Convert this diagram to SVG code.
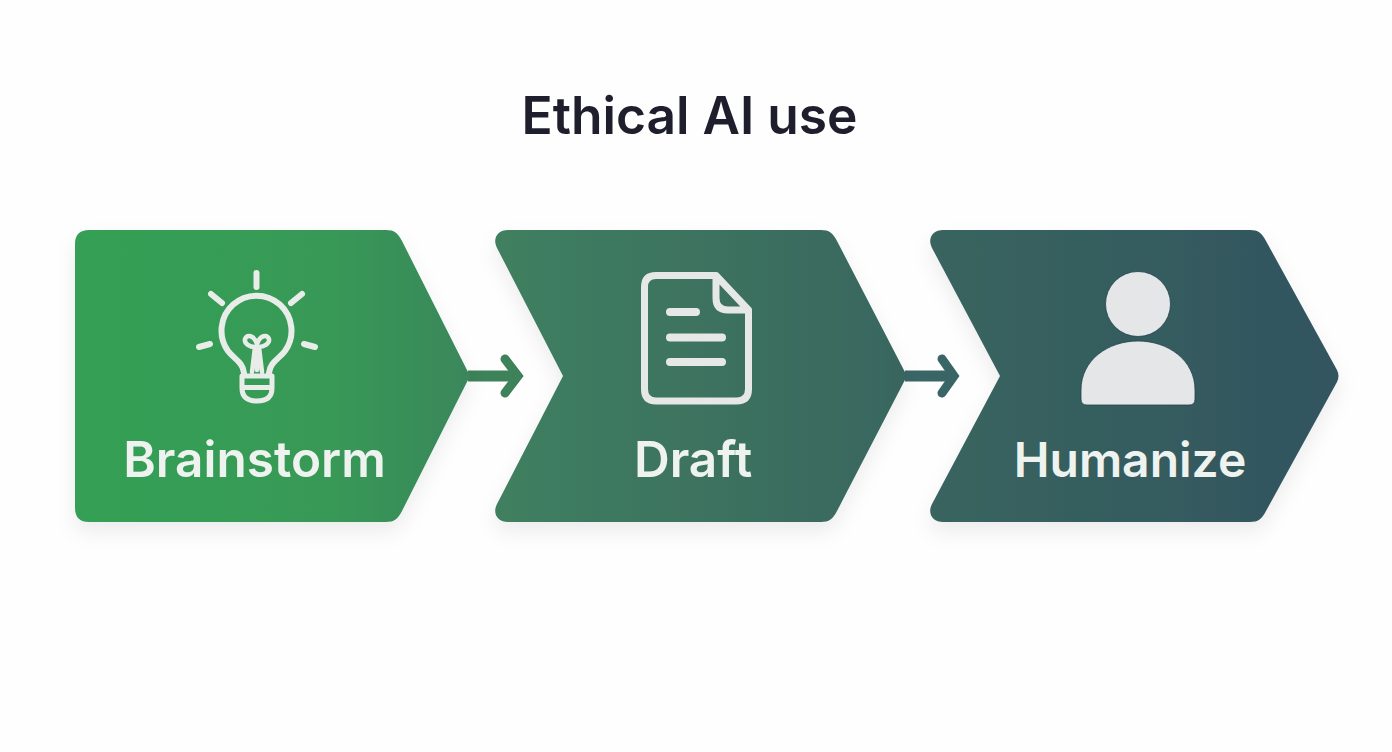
<svg xmlns="http://www.w3.org/2000/svg" width="1392" height="752" viewBox="0 0 1392 752">
<style>
text{font-family:Inter,"Liberation Sans",Arial,sans-serif;font-weight:600;text-anchor:middle}
.lbl{font-size:49.500px;fill:#eff3ef}
.ic{fill:none;stroke:#e9ede9;stroke-width:6;stroke-linecap:round;stroke-linejoin:round}
.ic2{fill:none;stroke:#e6e8e8;stroke-width:7;stroke-linecap:round;stroke-linejoin:round}
.ln{fill:none;stroke:#e6e8e8;stroke-width:8;stroke-linecap:round}
.arr{fill:none;stroke-width:9;stroke-linecap:round;stroke-linejoin:miter;stroke-miterlimit:6}
.shaft{stroke-width:11;stroke-linecap:butt}
.card{fill:url(#g);filter:url(#s)}
.ps{fill:#e4e6e7;stroke:#24424c;stroke-width:.8}
</style>
<defs>
<linearGradient id="g" gradientUnits="userSpaceOnUse" x1="75" y1="0" x2="1339" y2="0">
<stop offset="0" stop-color="#35a055"/><stop offset="0.2" stop-color="#379957"/><stop offset="0.3" stop-color="#3a895a"/><stop offset="0.34" stop-color="#3f7f60"/><stop offset="0.65" stop-color="#39665f"/><stop offset="1" stop-color="#32545f"/>
</linearGradient>
<filter id="s" x="-10%" y="-10%" width="120%" height="130%"><feDropShadow dx="0" dy="10" stdDeviation="10" flood-color="#000" flood-opacity="0.07"/></filter>
</defs>
<rect width="1392" height="752" fill="#fefefe"/>
<text id="title" x="689.500" y="134" font-size="51.500" fill="#1e1e2c">Ethical AI use</text>
<g id="connectors">
<g class="arr" stroke="#3d8259"><path class="shaft" d="M468 376H514"/><path d="M505 359L518 376L505 393"/></g>
<g class="arr" stroke="#3a6566"><path class="shaft" d="M905 376H950"/><path d="M942 359L954 376L942 393"/></g>
</g>
<g id="brainstorm">
<path class="card" d="M89 230H386C394 230 398 233 402 241L470 376L402 511C398 519 394 522 386 522H89Q75 522 75 508V244Q75 230 89 230Z"/>
<path class="ic" d="M256.500 273V287M211 294L222 303M302 294L291 303M199 347L210 344M315 347L304 344"/>
<path class="ic" d="M244 373C243 362 234 359 228 351A35 35 0 1 1 285 351C279 359 270 362 269 373"/>
<path class="ic" style="stroke-width:5" d="M242 376H272V388Q272 401 257 401Q242 401 242 388ZM242 387.500H272"/>
<path class="ic" style="stroke-width:4.500" d="M252 372L255 347C250 347 244 344 245 339C247 334 254 335 257 344C260 335 267 334 269 339C270 344 263 347 259 347L262 372M257 347V370"/>
<text class="lbl" x="254.500" y="477">Brainstorm</text>
</g>
<g id="draft">
<path class="card" d="M508 230H821C829 230 833 233 837 241L907 376L837 511C833 519 829 522 821 522H508C498 522 492 514 497 504L563 376L497 248C492 238 498 230 508 230Z"/>
<path class="ic2" d="M660 275.500H716L748.500 310V389Q748.500 401 736.500 401H656Q644.500 401 644.500 389V287Q644.500 275.500 656 275.500ZM716 275.500V298Q716 310 728 310H748.500"/>
<path class="ln" d="M670 312H696M670 337.500H722M670 362H722"/>
<text class="lbl" x="693" y="477">Draft</text>
</g>
<g id="humanize">
<path class="card" d="M943 230H1250C1258 230 1262 233 1266 241L1337 370Q1340 376 1337 382L1266 511C1262 519 1258 522 1250 522H943C933 522 927 514 932 504L1000 376L932 248C927 238 933 230 943 230Z"/>
<circle class="ps" cx="1138" cy="304" r="32.500"/>
<path class="ps" d="M1087 405Q1081 405 1081 399V390C1081 360 1108 341 1138 341C1168 341 1195 360 1195 390V399Q1195 405 1189 405Z"/>
<text class="lbl" x="1130" y="477" style="font-size:48px">Humanize</text>
</g>
</svg>
